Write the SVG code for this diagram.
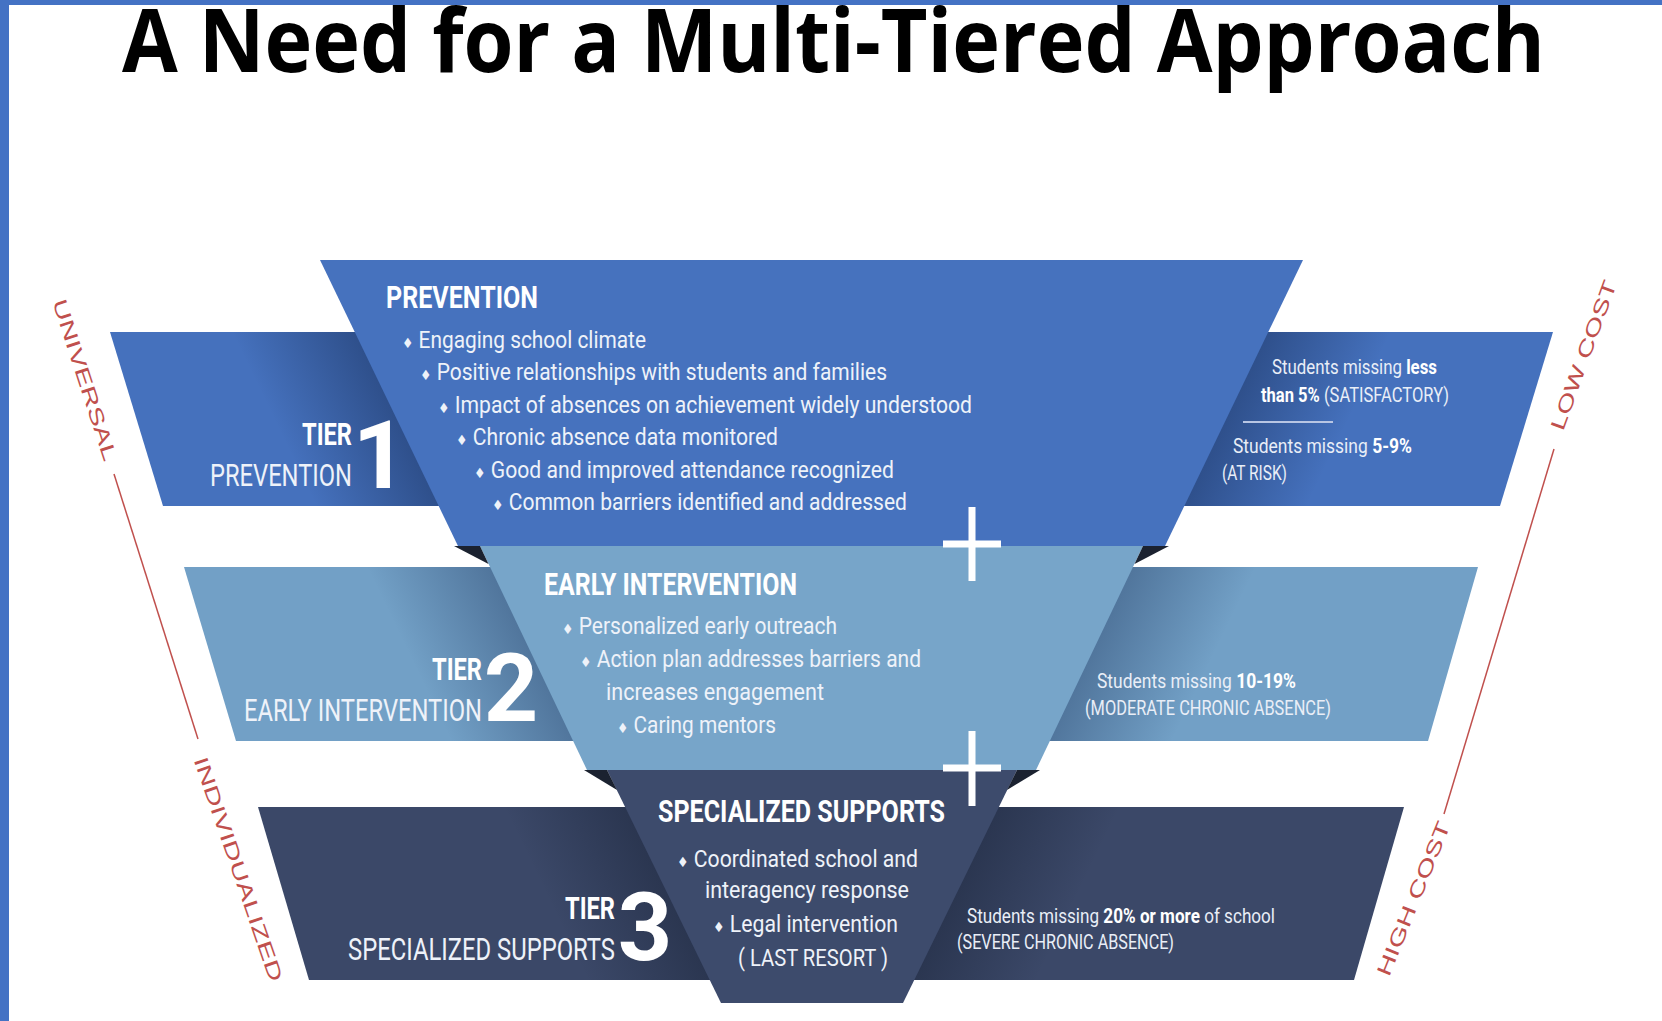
<svg xmlns="http://www.w3.org/2000/svg" width="1662" height="1021" viewBox="0 0 1662 1021">
<defs>
<style>
.title{font-family:"Open Sans","Liberation Sans",sans-serif;font-weight:700;font-size:88px;fill:#000}
.hd{font-family:Roboto,"Liberation Sans",sans-serif;font-weight:700;font-size:31px;fill:#fff}
.bl{font-family:Roboto,"Liberation Sans",sans-serif;font-size:23px;fill:#eef2f9}
.tier{font-family:Roboto,"Liberation Sans",sans-serif;font-weight:700;font-size:31px;fill:#fff}
.sub{font-family:Roboto,"Liberation Sans",sans-serif;font-size:31px;fill:#eef2f9}
.num{font-family:Roboto,"Liberation Sans",sans-serif;font-weight:700;font-size:95px;fill:#fff}
.st{font-family:Roboto,"Liberation Sans",sans-serif;font-size:19.5px;fill:#e9eef7}
.b{font-weight:700;fill:#fff}
.dia{font-family:"DejaVu Sans",sans-serif;font-size:14px}
.red{font-family:"Liberation Sans",sans-serif;font-size:20px;fill:#c0504d}
.redline{stroke:#c0504d;stroke-width:1.5;fill:none}
.t1{fill:#4672be}.t1b{fill:#4571bd}
.t2{fill:#77a5c9}.t2b{fill:#72a0c6}
.t3{fill:#3d4b6c}.t3b{fill:#3b4868}
.wedge{fill:#1b2230}
.plus{stroke:#fff;stroke-width:7;fill:none}
</style>
<linearGradient id="sh1L" gradientUnits="userSpaceOnUse" x1="297" y1="467" x2="396" y2="419"><stop offset="0" stop-color="#142850" stop-opacity="0"/><stop offset="1" stop-color="#142850" stop-opacity="0.45"/></linearGradient>
<linearGradient id="sh2L" gradientUnits="userSpaceOnUse" x1="432" y1="702" x2="531" y2="654"><stop offset="0" stop-color="#142850" stop-opacity="0"/><stop offset="1" stop-color="#142850" stop-opacity="0.35"/></linearGradient>
<linearGradient id="sh3L" gradientUnits="userSpaceOnUse" x1="568" y1="941" x2="667" y2="893"><stop offset="0" stop-color="#0d1525" stop-opacity="0"/><stop offset="1" stop-color="#0d1525" stop-opacity="0.35"/></linearGradient>
<linearGradient id="sh1R" gradientUnits="userSpaceOnUse" x1="1326" y1="467" x2="1227" y2="419"><stop offset="0" stop-color="#142850" stop-opacity="0"/><stop offset="1" stop-color="#142850" stop-opacity="0.45"/></linearGradient>
<linearGradient id="sh2R" gradientUnits="userSpaceOnUse" x1="1191" y1="702" x2="1092" y2="654"><stop offset="0" stop-color="#142850" stop-opacity="0"/><stop offset="1" stop-color="#142850" stop-opacity="0.35"/></linearGradient>
<linearGradient id="sh3R" gradientUnits="userSpaceOnUse" x1="1056" y1="941" x2="957" y2="893"><stop offset="0" stop-color="#0d1525" stop-opacity="0"/><stop offset="1" stop-color="#0d1525" stop-opacity="0.35"/></linearGradient>
</defs>
<rect x="0" y="0" width="1662" height="1021" fill="#fff"/>
<rect x="0" y="0" width="1662" height="5" fill="#4472c4"/>
<rect x="0" y="0" width="9" height="1021" fill="#4472c4"/>
<text class="title" x="122" y="72" textLength="1423" lengthAdjust="spacingAndGlyphs">A Need for a Multi-Tiered Approach</text>

<g id="connectors">
<line class="redline" x1="114" y1="474" x2="198" y2="739"/>
<line class="redline" x1="1554" y1="449" x2="1444" y2="814"/>
</g>
<g id="axis-labels">
<text class="red" transform="translate(85,380) rotate(72)" x="0" y="7" text-anchor="middle" textLength="169" lengthAdjust="spacingAndGlyphs">UNIVERSAL</text>
<text class="red" transform="translate(238.5,869) rotate(71)" x="0" y="7" text-anchor="middle" textLength="236" lengthAdjust="spacingAndGlyphs">INDIVIDUALIZED</text>
<text class="red" transform="translate(1583.5,355) rotate(-70)" x="0" y="7" text-anchor="middle" textLength="158" lengthAdjust="spacingAndGlyphs">LOW COST</text>
<text class="red" transform="translate(1413.5,898.5) rotate(-68)" x="0" y="7" text-anchor="middle" textLength="165" lengthAdjust="spacingAndGlyphs">HIGH COST</text>
</g>

<g id="tier1-bands">
<polygon class="t1b" points="110,332 480,332 480,506 163,506"/>
<polygon fill="url(#sh1L)" points="110,332 480,332 480,506 163,506"/>
<polygon class="t1b" points="1140,332 1553,332 1500,506 1140,506"/>
<polygon fill="url(#sh1R)" points="1140,332 1553,332 1500,506 1140,506"/>
</g>
<g id="tier2-bands">
<polygon class="t2b" points="184,567 640,567 640,741 236,741"/>
<polygon fill="url(#sh2L)" points="184,567 640,567 640,741 236,741"/>
<polygon class="t2b" points="990,567 1478,567 1428,741 990,741"/>
<polygon fill="url(#sh2R)" points="990,567 1478,567 1428,741 990,741"/>
</g>
<g id="tier3-bands">
<polygon class="t3b" points="258,807 760,807 760,980 309,980"/>
<polygon fill="url(#sh3L)" points="258,807 760,807 760,980 309,980"/>
<polygon class="t3b" points="870,807 1404,807 1354,980 870,980"/>
<polygon fill="url(#sh3R)" points="870,807 1404,807 1354,980 870,980"/>
</g>

<g id="tier1-center">
<polygon class="t1" points="320,260 1303,260 1165,546 458,546"/>
<text class="hd" x="386" y="308" textLength="152" lengthAdjust="spacingAndGlyphs">PREVENTION</text>
<text class="bl" x="402" y="348" textLength="244" lengthAdjust="spacingAndGlyphs"><tspan class="dia">♦</tspan> Engaging school climate</text>
<text class="bl" x="420" y="380" textLength="467" lengthAdjust="spacingAndGlyphs"><tspan class="dia">♦</tspan> Positive relationships with students and families</text>
<text class="bl" x="438" y="413" textLength="534" lengthAdjust="spacingAndGlyphs"><tspan class="dia">♦</tspan> Impact of absences on achievement widely understood</text>
<text class="bl" x="456" y="445" textLength="322" lengthAdjust="spacingAndGlyphs"><tspan class="dia">♦</tspan> Chronic absence data monitored</text>
<text class="bl" x="474" y="478" textLength="420" lengthAdjust="spacingAndGlyphs"><tspan class="dia">♦</tspan> Good and improved attendance recognized</text>
<text class="bl" x="492" y="510" textLength="415" lengthAdjust="spacingAndGlyphs"><tspan class="dia">♦</tspan> Common barriers identified and addressed</text>
</g>

<g id="tier2-center">
<polygon class="t2" points="480,546 1143,546 1036,770 587,770"/>
<polygon class="wedge" points="454,546 480,546 488.5,564"/>
<polygon class="wedge" points="1169,546 1143,546 1134.5,564"/>
<text class="hd" x="544" y="595" textLength="253" lengthAdjust="spacingAndGlyphs">EARLY INTERVENTION</text>
<text class="bl" x="562" y="634" textLength="275" lengthAdjust="spacingAndGlyphs"><tspan class="dia">♦</tspan> Personalized early outreach</text>
<text class="bl" x="580" y="667" textLength="341" lengthAdjust="spacingAndGlyphs"><tspan class="dia">♦</tspan> Action plan addresses barriers and</text>
<text class="bl" x="606" y="700" textLength="218" lengthAdjust="spacingAndGlyphs">increases engagement</text>
<text class="bl" x="617" y="733" textLength="159" lengthAdjust="spacingAndGlyphs"><tspan class="dia">♦</tspan> Caring mentors</text>
</g>

<g id="tier3-center">
<polygon class="t3" points="607,770 1017,770 903,1003 721,1003"/>
<polygon class="wedge" points="584,770 607,770 617,790"/>
<polygon class="wedge" points="1040,770 1017,770 1007,790"/>
<text class="hd" x="658" y="822" textLength="287" lengthAdjust="spacingAndGlyphs">SPECIALIZED SUPPORTS</text>
<text class="bl" x="677" y="867" textLength="241" lengthAdjust="spacingAndGlyphs"><tspan class="dia">♦</tspan> Coordinated school and</text>
<text class="bl" x="705" y="898" textLength="204" lengthAdjust="spacingAndGlyphs">interagency response</text>
<text class="bl" x="713" y="932" textLength="185" lengthAdjust="spacingAndGlyphs"><tspan class="dia">♦</tspan> Legal intervention</text>
<text class="bl" x="738" y="966" textLength="150" lengthAdjust="spacingAndGlyphs">( LAST RESORT )</text>
</g>

<g id="plus-signs">
<path class="plus" d="M972 507V581M943 544H1001"/>
<path class="plus" d="M972 731V806M943 768H1001"/>
</g>

<g id="tier1-label">
<text class="tier" x="302" y="445" textLength="50" lengthAdjust="spacingAndGlyphs">TIER</text>
<text class="sub" x="210" y="486" textLength="142" lengthAdjust="spacingAndGlyphs">PREVENTION</text>
<text class="num" x="380" y="488" text-anchor="middle">1</text>
</g>
<g id="tier2-label">
<text class="tier" x="432" y="680" textLength="50" lengthAdjust="spacingAndGlyphs">TIER</text>
<text class="sub" x="244" y="721" textLength="238" lengthAdjust="spacingAndGlyphs">EARLY INTERVENTION</text>
<text class="num" x="511" y="721" text-anchor="middle">2</text>
</g>
<g id="tier3-label">
<text class="tier" x="565" y="919" textLength="50" lengthAdjust="spacingAndGlyphs">TIER</text>
<text class="sub" x="348" y="960" textLength="267" lengthAdjust="spacingAndGlyphs">SPECIALIZED SUPPORTS</text>
<text class="num" x="645" y="960" text-anchor="middle">3</text>
</g>

<g id="tier1-stats">
<text class="st" x="1272" y="374" textLength="165" lengthAdjust="spacingAndGlyphs">Students missing <tspan class="b">less</tspan></text>
<text class="st" x="1261" y="402" textLength="188" lengthAdjust="spacingAndGlyphs"><tspan class="b">than 5%</tspan> (SATISFACTORY)</text>
<line x1="1243" y1="422" x2="1333" y2="422" stroke="#b8c6e4" stroke-width="2"/>
<text class="st" x="1233" y="453" textLength="179" lengthAdjust="spacingAndGlyphs">Students missing <tspan class="b">5-9%</tspan></text>
<text class="st" x="1222" y="480" textLength="65" lengthAdjust="spacingAndGlyphs">(AT RISK)</text>
</g>
<g id="tier2-stats">
<text class="st" x="1097" y="688" textLength="199" lengthAdjust="spacingAndGlyphs">Students missing <tspan class="b">10-19%</tspan></text>
<text class="st" x="1085" y="715" textLength="246" lengthAdjust="spacingAndGlyphs">(MODERATE CHRONIC ABSENCE)</text>
</g>
<g id="tier3-stats">
<text class="st" x="967" y="923" textLength="308" lengthAdjust="spacingAndGlyphs">Students missing <tspan class="b">20% or more</tspan> of school</text>
<text class="st" x="957" y="949" textLength="217" lengthAdjust="spacingAndGlyphs">(SEVERE CHRONIC ABSENCE)</text>
</g>
</svg>
